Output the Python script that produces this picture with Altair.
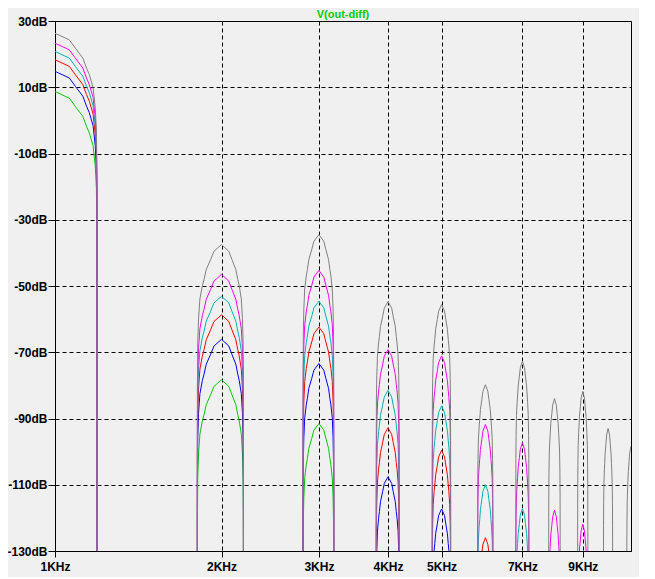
import altair as alt
import pandas as pd

# Harmonic centre frequencies (kHz)
HARMONIC_KHZ = [1, 2, 3, 4, 5, 6, 7, 8, 9, 10, 11]

# Peak level of each harmonic lobe per trace (dB), None = below the plot
PEAK_GRAY = [26.3, -37.5, -34.5, -54.7, -55.6, -79.8, -72.7, -84.0, -81.8, -93.0, -98.5]
PEAK_MAGENTA = [23.3, -46.5, -45.3, -69.2, -71.1, -91.8, -97.3, -117.7, -121.9, None, None]
PEAK_CYAN = [20.8, -53.1, -54.6, -81.5, -86.2, -110.0, -117.2, None, None, None, None]
PEAK_RED = [18.3, -58.7, -62.4, -92.8, -99.6, -126.0, None, None, None, None, None]
PEAK_BLUE = [14.8, -66.1, -73.4, -107.6, -117.3, None, None, None, None, None, None]
PEAK_GREEN = [8.7, -78.3, -91.5, None, None, None, None, None, None, None, None]

# Lobe shape: offset from centre (fraction of half width) and level below peak (dB)
LOBE_U = [0.0, 0.32, 0.46, 0.64, 0.73, 0.80, 0.895, 0.95, 0.98, 0.995]
LOBE_DROP_DB = [0.0, -2.0, -4.5, -7.5, -10.5, -12.5, -16.4, -22.4, -29.4, -44.0]
NULL_HALF_WIDTH_KHZ = 0.192
NULL_DB = -200.0

TRACES = ["green", "blue", "red", "cyan", "magenta", "gray"]  # drawing order
TRACE_PEAKS = {
    "gray": PEAK_GRAY, "magenta": PEAK_MAGENTA, "cyan": PEAK_CYAN,
    "red": PEAK_RED, "blue": PEAK_BLUE, "green": PEAK_GREEN,
}
TRACE_COLORS = {
    "gray": "#808080", "magenta": "#ff00ff", "cyan": "#00b4b4",
    "red": "#ff0000", "blue": "#0000ff", "green": "#00cc00",
}

Y_TICKS = [-130, -110, -90, -70, -50, -30, -10, 10, 30]
X_TICKS = [1, 2, 3, 4, 5, 7, 9]

rows = []
for tr in TRACES:
    for fc, pk in zip(HARMONIC_KHZ, TRACE_PEAKS[tr]):
        if pk is None:
            continue
        pts = [(-1.0, NULL_DB)]
        pts += [(-u, pk + d) for u, d in zip(reversed(LOBE_U[1:]), reversed(LOBE_DROP_DB[1:]))]
        pts += [(u, pk + d) for u, d in zip(LOBE_U, LOBE_DROP_DB)]
        pts += [(1.0, NULL_DB)]
        for i, (u, db) in enumerate(pts):
            rows.append({"trace": tr, "lobe": f"{tr}-{fc}", "i": i,
                         "f": fc + u * NULL_HALF_WIDTH_KHZ, "db": db})
df = pd.DataFrame(rows)

FONT = "Liberation Sans"

x_enc = alt.X("f:Q", scale=alt.Scale(type="log", domain=[1, 11], nice=False),
              axis=alt.Axis(values=X_TICKS, labelExpr="datum.value + 'KHz'", title=None,
                            grid=True, gridDash=[4, 3], gridColor="black", gridOpacity=1,
                            domainColor="black", tickColor="black", tickSize=6,
                            labelFont=FONT, labelFontWeight="bold", labelFontSize=12,
                            labelColor="black", labelPadding=4, labelFlush=False,
                            labelOverlap=False))
y_enc = alt.Y("db:Q", scale=alt.Scale(domain=[-130, 30], nice=False, zero=False),
              axis=alt.Axis(values=Y_TICKS, labelExpr="datum.value + 'dB'", title=None,
                            grid=True, gridDash=[4, 3], gridColor="black", gridOpacity=1,
                            domainColor="black", tickColor="black", tickSize=7,
                            labelFont=FONT, labelFontWeight="bold", labelFontSize=12,
                            labelColor="black", labelPadding=1, labelOverlap=False))

layers = []
for k, tr in enumerate(TRACES):
    sub = df[df.trace == tr]
    enc = dict(x=x_enc, y=y_enc, detail="lobe:N", order="i:Q") if k == 0 else \
        dict(x="f:Q", y="db:Q", detail="lobe:N", order="i:Q")
    layers.append(
        alt.Chart(sub).mark_line(clip=True, strokeWidth=1, color=TRACE_COLORS[tr]).encode(**enc)
    )

title = alt.Chart(pd.DataFrame({"t": ["V(out-diff)"]})).mark_text(
    font=FONT, fontWeight="bold", fontSize=11, color="#00cc00",
    align="center", baseline="alphabetic"
).encode(text="t:N", x=alt.value(288), y=alt.value(-3))

chart = alt.layer(*layers, title).properties(
    width=576, height=530,
    padding={"left": 47, "top": 13, "right": 8, "bottom": 26},
    autosize=alt.AutoSizeParams(type="none"),
    background="#f0f0f0",
).configure_view(stroke="black", strokeWidth=1)

chart.save("out.html", embed_options={"renderer": "svg", "actions": False})
